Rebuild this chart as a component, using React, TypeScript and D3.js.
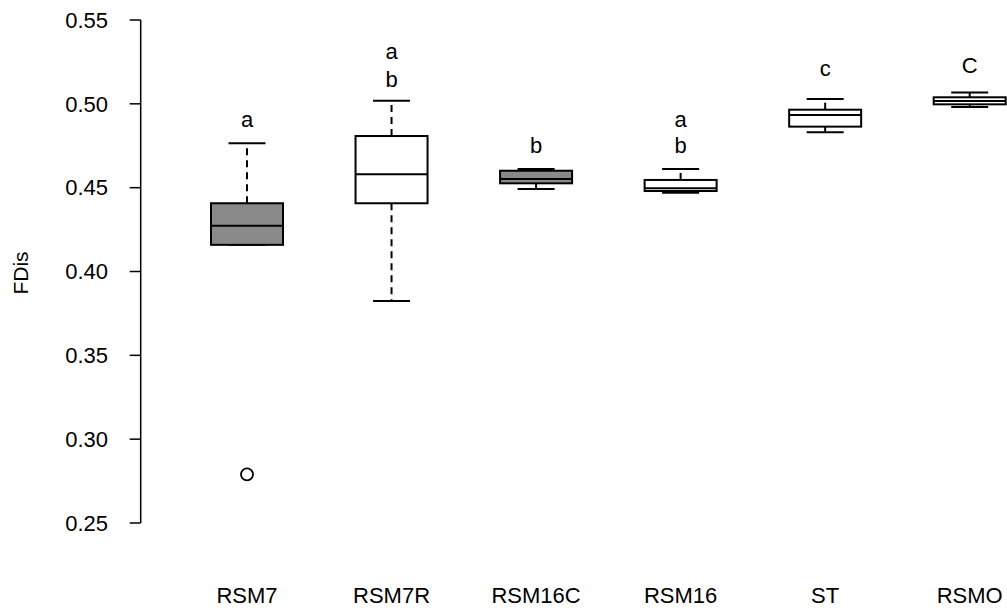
import React from "react";
import * as d3 from "d3";

const categories = ["RSM7", "RSM7R", "RSM16C", "RSM16", "ST", "RSMO"];
const lowerWhisker = [0.4159, 0.3824, 0.4492, 0.447, 0.483, 0.4981];
const q1 = [0.4159, 0.4407, 0.4526, 0.448, 0.4864, 0.4997];
const median = [0.4273, 0.458, 0.4552, 0.4496, 0.4933, 0.5017];
const q3 = [0.4407, 0.4808, 0.4601, 0.4546, 0.4965, 0.5039];
const upperWhisker = [0.4765, 0.5019, 0.4611, 0.4611, 0.5029, 0.5067];
const outliers = [[0.279], [], [], [], [], []];
const filled = [true, false, true, false, false, false];
const groupLetters = [["a"], ["a", "b"], ["b"], ["a", "b"], ["c"], ["C"]];
const letterBaseline = [[0.4862], [0.5266, 0.5102], [0.4705], [0.4862, 0.4705], [0.5168], [0.5182]];
const yTicks = [0.25, 0.3, 0.35, 0.4, 0.45, 0.5, 0.55];

const W = 1007;
const H = 613;
const FONT = "'Liberation Sans', Arial, sans-serif";

export default function App() {
  const x = d3.scalePoint<string>().domain(categories).range([247, 969.7]);
  const y = d3.scaleLinear().domain([0.25, 0.55]).range([523, 20]);
  const boxW = 72;
  const capW = 37;
  const axisX = 140.7;

  return (
    <div style={{ position: "fixed", left: 0, top: 0 }}>
      <svg width={W} height={H} style={{ display: "block", background: "#fff" }}>
        <line x1={axisX} x2={axisX} y1={y(0.55)} y2={y(0.25)} stroke="#000" strokeWidth={1.5} />
        {yTicks.map((t) => (
          <g key={t}>
            <line x1={axisX - 11} x2={axisX} y1={y(t)} y2={y(t)} stroke="#000" strokeWidth={1.5} />
            <text x={108} y={y(t)} dy="0.35em" textAnchor="end" fontFamily={FONT} fontSize={22}>
              {d3.format(".2f")(t)}
            </text>
          </g>
        ))}
        <text
          transform={`translate(21,273) rotate(-90)`}
          textAnchor="middle"
          dy="0.35em"
          fontFamily={FONT}
          fontSize={21}
        >
          FDis
        </text>
        {categories.map((c, i) => {
          const cx = x(c)!;
          return (
            <g key={c}>
              <line x1={cx} x2={cx} y1={y(q3[i])} y2={y(upperWhisker[i])} stroke="#000" strokeWidth={2} strokeDasharray="7,5" />
              <line x1={cx} x2={cx} y1={y(q1[i])} y2={y(lowerWhisker[i])} stroke="#000" strokeWidth={2} strokeDasharray="7,5" />
              <line x1={cx - capW / 2} x2={cx + capW / 2} y1={y(upperWhisker[i])} y2={y(upperWhisker[i])} stroke="#000" strokeWidth={2} />
              <line x1={cx - capW / 2} x2={cx + capW / 2} y1={y(lowerWhisker[i])} y2={y(lowerWhisker[i])} stroke="#000" strokeWidth={2} />
              <rect
                x={cx - boxW / 2}
                y={y(q3[i])}
                width={boxW}
                height={y(q1[i]) - y(q3[i])}
                fill={filled[i] ? "#8a8a8a" : "#fff"}
                stroke="#000"
                strokeWidth={2}
              />
              <line x1={cx - boxW / 2} x2={cx + boxW / 2} y1={y(median[i])} y2={y(median[i])} stroke="#000" strokeWidth={2} />
              {outliers[i].map((o, k) => (
                <circle key={k} cx={cx} cy={y(o)} r={6} fill="none" stroke="#000" strokeWidth={1.8} />
              ))}
              {groupLetters[i].map((l, k) => (
                <text key={k} x={cx} y={y(letterBaseline[i][k])} textAnchor="middle" fontFamily={FONT} fontSize={22}>
                  {l}
                </text>
              ))}
              <text x={cx} y={603} textAnchor="middle" fontFamily={FONT} fontSize={22}>
                {c}
              </text>
            </g>
          );
        })}
      </svg>
    </div>
  );
}
